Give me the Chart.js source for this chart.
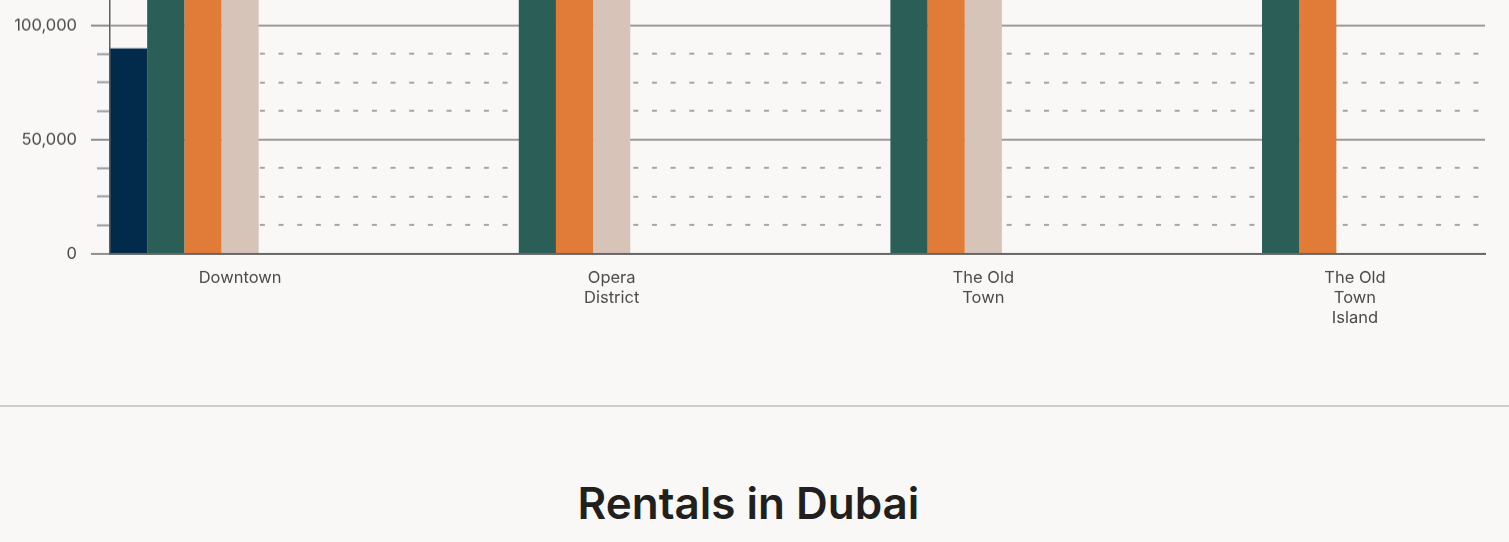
<!DOCTYPE html>
<html>
<head>
<meta charset="utf-8">
<script src="https://cdn.jsdelivr.net/npm/chart.js@4.4.1/dist/chart.umd.min.js"></script>
<style>
  html, body { margin: 0; padding: 0; background: #f9f8f6; width: 1509px; height: 542px; overflow: hidden; position: relative; }
  #wrap { position: absolute; left: 0; top: -451px; width: 1509px; height: 804px; }
  #sep { position: absolute; left: 0; top: 405px; width: 1509px; height: 2px; background: #cdcdd1; }
  #title { position: absolute; left: 0; width: 1497px; top: 481px; text-align: center;
           font-family: Inter, "Open Sans", sans-serif; font-weight: 600; font-size: 44px; line-height: 44px; color: #221f1f; }
</style>
</head>
<body>
<div id="wrap"><canvas id="c"></canvas></div>
<div id="sep"></div>
<div id="title">Rentals in Dubai</div>
<script>
// ---- data ----
const categories = [['Downtown'], ['Opera', 'District'], ['The Old', 'Town'], ['The Old', 'Town', 'Island']];
const seriesNames = ['Studio', '1 Bedroom', '2 Bedrooms', '3 Bedrooms', '4 Bedrooms', '5 Bedrooms', 'Penthouse'];
const seriesColors = ['#022a4a', '#2a5e57', '#e07b38', '#d6c4b9', '#8a9ba8', '#b5a27a', '#6d6d6d'];
const studio    = [90000, null, null, null];
const oneBed    = [135000, 140000, 125000, 150000];
const twoBed    = [195000, 210000, 180000, 230000];
const threeBed  = [270000, 290000, 250000, null];
const fourBed   = [null, null, null, null];
const fiveBed   = [null, null, null, null];
const penthouse = [null, null, null, null];
const seriesValues = [studio, oneBed, twoBed, threeBed, fourBed, fiveBed, penthouse];
const yMax = 300000;
const yStep = 12500;
const yMajor = 50000;

// ---- layout constants ----
const PX_PER_UNIT = 228 / 100000;
const AXIS_ZERO_Y = 253;
const X_AXIS_H = 100;
const PAD_TOP = 20;

const datasets = seriesNames.map((name, s) => ({
  label: name,
  backgroundColor: seriesColors[s],
  borderWidth: 0,
  data: seriesValues[s].map((v, i) => ({ x: i, y: v }))
}));

const isMajor = v => v % yMajor === 0;
const font = { family: 'Inter, "Open Sans", sans-serif', size: 16.5 };

const wrap = document.getElementById('wrap');
const chart = new Chart(document.getElementById('c'), {
  type: 'bar',
  data: { datasets },
  options: {
    responsive: true,
    maintainAspectRatio: false,
    animation: false,
    layout: { padding: { left: 0, right: 24, top: PAD_TOP, bottom: 0 } },
    plugins: { legend: { display: false }, tooltip: { enabled: false } },
    datasets: { bar: { categoryPercentage: 0.7, barPercentage: 1.0 } },
    scales: {
      x: {
        type: 'linear',
        position: 'bottom',
        offset: false,
        min: -0.35,
        max: 3.35,
        afterFit: s => { s.height = X_AXIS_H; },
        grid: { display: false, offset: false },
        border: { display: true, color: '#666666', width: 2, z: 1 },
        ticks: {
          stepSize: 1,
          includeBounds: false,
          autoSkip: false,
          maxRotation: 0,
          padding: 6,
          color: '#4a4a4a',
          font: Object.assign({ lineHeight: 1.22 }, font),
          callback: v => (Number.isInteger(v) && categories[v]) ? categories[v] : ''
        }
      },
      y: {
        position: 'left',
        min: 0,
        max: yMax,
        afterFit: s => { s.width = 110; },
        grid: {
          display: true,
          drawOnChartArea: true,
          tickLength: 19,
          tickWidth: 2,
          lineWidth: 2,
          color: c => (c.tick && isMajor(c.tick.value)) ? '#9b9b9b' : '#a5a5a5',
          tickColor: c => (c.tick && isMajor(c.tick.value)) ? '#8f8f8f' : 'rgba(0,0,0,0)'
        },
        border: {
          display: true, color: '#5f5f5f', width: 1.5, z: 1,
          dash: c => (c.tick && !isMajor(c.tick.value)) ? [5, 13.67] : [],
          dashOffset: 0
        },
        ticks: {
          stepSize: yStep,
          autoSkip: false,
          padding: 14,
          color: '#4a4a4a',
          font: font,
          callback: v => isMajor(v) ? v.toLocaleString('en-US') : ''
        }
      },
      yMinor: {
        axis: 'y',
        type: 'linear',
        position: { x: -0.35 },
        min: 0,
        max: yMax,
        grid: {
          display: true,
          drawOnChartArea: false,
          tickLength: 13,
          tickWidth: 2,
          tickColor: c => (c.tick && !isMajor(c.tick.value)) ? '#9a9a9a' : 'rgba(0,0,0,0)'
        },
        border: { display: false },
        ticks: { stepSize: yStep, display: false, autoSkip: false }
      }
    }
  }
});

function place() {
  const y = chart.scales.y;
  const wanted = yMax * PX_PER_UNIT;
  const have = y.bottom - y.top;
  if (Math.abs(have - wanted) > 0.5) {
    wrap.style.height = (wrap.clientHeight + (wanted - have)) + 'px';
    chart.resize();
  }
  wrap.style.top = (AXIS_ZERO_Y - chart.scales.y.getPixelForValue(0)) + 'px';
}
place();
</script>
</body>
</html>
